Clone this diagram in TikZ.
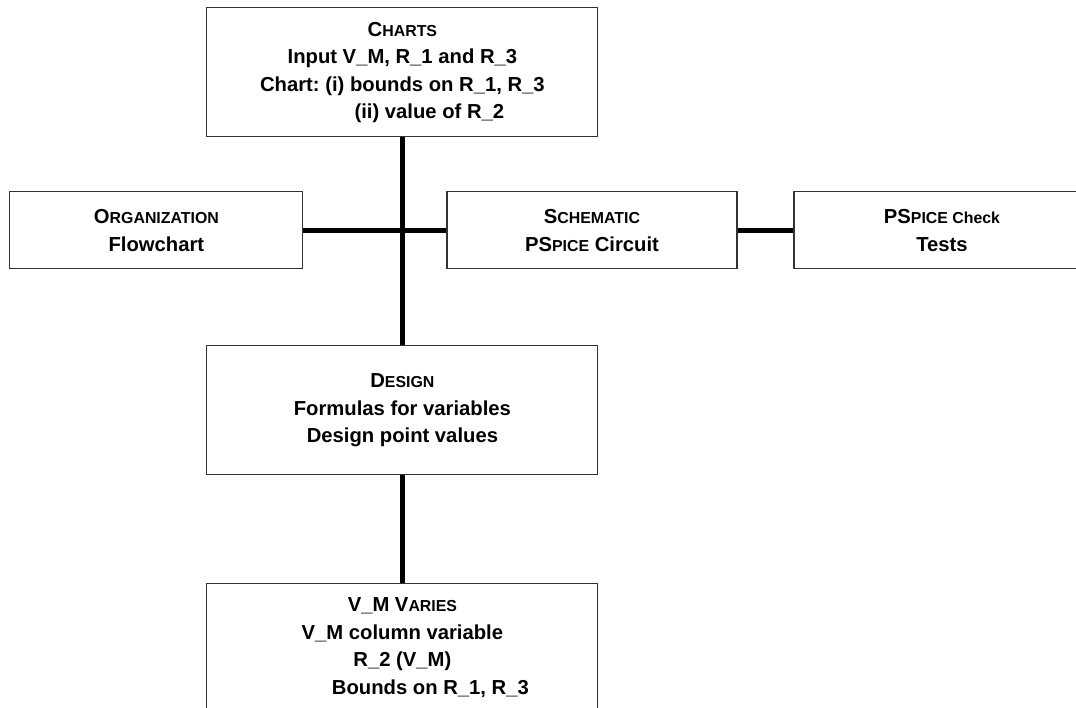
\documentclass[tikz,border=0pt]{standalone}
\usepackage{fontspec}
\setmainfont{Liberation Sans}
\usetikzlibrary{shapes}
\frenchspacing

% small capitals made by hand
\newcommand{\smc}[1]{{\fontsize{11.3}{19.5}\selectfont #1}}

\begin{document}
\begin{tikzpicture}[
  box/.style={rectangle, draw=black!80, line width=0.8pt, align=center, inner sep=0pt,
    font=\fontsize{14.4}{19.5}\selectfont\bfseries},
  link/.style={line width=3.6pt}]
\useasboundingbox (0,0) rectangle (26.9,-17.7);

\node[box, minimum width=9.775cm, minimum height=3.225cm] (C) at (10.06,-1.81)
  {C\smc{HARTS}\\Input V\_M, R\_1 and R\_3\\Chart: (i) bounds on R\_1, R\_3\\\hspace*{1.35cm}(ii) value of R\_2};
\node[box, minimum width=7.325cm, minimum height=1.925cm] (O) at (3.91,-5.76)
  {O\smc{RGANIZATION}\\Flowchart};
\node[box, minimum width=7.25cm, minimum height=1.925cm] (S) at (14.8,-5.76)
  {S\smc{CHEMATIC}\\PS\smc{PICE} Circuit};
\node[box, minimum width=7.4cm, minimum height=1.925cm] (P) at (23.55,-5.76)
  {PS\smc{PICE Check}\\Tests};
\node[box, minimum width=9.775cm, minimum height=3.225cm] (D) at (10.06,-10.26)
  {D\smc{ESIGN}\\Formulas for variables\\Design point values};
\node[box, minimum width=9.775cm, minimum height=3.225cm] (V) at (10.06,-16.19)
  {V\_M V\smc{ARIES}\\V\_M column variable\\R\_2 (V\_M)\\\hspace*{1.4cm}Bounds on R\_1, R\_3};

\draw[link] (C) -- (D);
\draw[link] (O) -- (S);
\draw[link] (S) -- (P);
\draw[link] (D) -- (V);
\end{tikzpicture}
\end{document}
